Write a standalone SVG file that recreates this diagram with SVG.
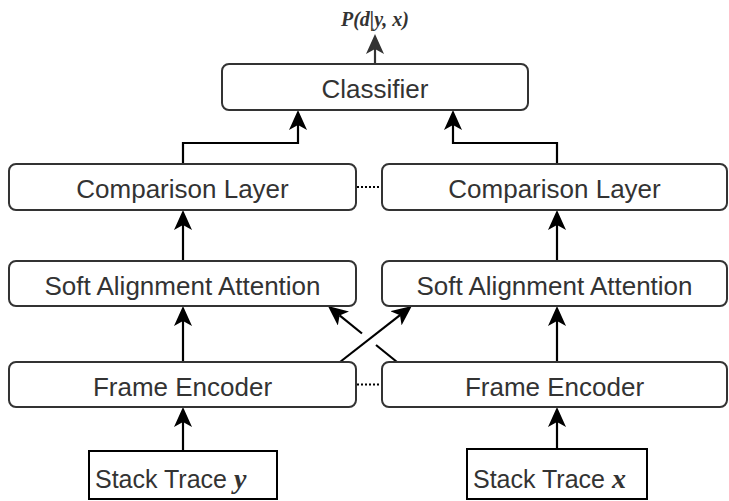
<svg xmlns="http://www.w3.org/2000/svg" width="729" height="501" viewBox="0 0 729 501">
<defs>
<style>
.box{fill:#fff;stroke:#333;stroke-width:2}
.sbox{fill:#fff;stroke:#000;stroke-width:2}
.lbl{font-family:"Liberation Sans",Arial,Helvetica,sans-serif;font-size:26px;fill:#333;text-anchor:middle}
.slbl{font-family:"Liberation Sans",Arial,Helvetica,sans-serif;font-size:25px;fill:#333}
.math{font-family:"Liberation Serif","DejaVu Serif",serif;font-style:italic;font-weight:bold}
.edge{fill:none;stroke:#000;stroke-width:2.2}
.dot{fill:none;stroke:#000;stroke-width:2;stroke-dasharray:2 2}
</style>
<marker id="arr" viewBox="0 0 20 18" refX="5" refY="9" markerWidth="20" markerHeight="18" markerUnits="userSpaceOnUse" orient="auto">
<path d="M0,0 L20,9 L0,18 L5,9 Z" fill="#000"/>
</marker>
<marker id="arrg" viewBox="0 0 20 18" refX="5" refY="9" markerWidth="20" markerHeight="18" markerUnits="userSpaceOnUse" orient="auto">
<path d="M0,0 L20,9 L0,18 L5,9 Z" fill="#333"/>
</marker>
</defs>
<g id="connectors">
<line x1="375" y1="64" x2="375" y2="49" stroke="#333" stroke-width="2.2" marker-end="url(#arrg)"/>
<polyline class="edge" points="183,164 183,143 298,143 298,125" marker-end="url(#arr)"/>
<polyline class="edge" points="557,164 557,143 453,143 453,125" marker-end="url(#arr)"/>
<line class="edge" x1="183" y1="261" x2="183" y2="225" marker-end="url(#arr)"/>
<line class="edge" x1="557" y1="261" x2="557" y2="225" marker-end="url(#arr)"/>
<line class="edge" x1="183" y1="362" x2="183" y2="321" marker-end="url(#arr)"/>
<line class="edge" x1="557" y1="362" x2="557" y2="321" marker-end="url(#arr)"/>
<line class="edge" x1="183" y1="451" x2="183" y2="422" marker-end="url(#arr)"/>
<line class="edge" x1="557" y1="449" x2="557" y2="422" marker-end="url(#arr)"/>
<line class="edge" x1="340" y1="362" x2="400" y2="315.2" marker-end="url(#arr)"/>
<line class="edge" x1="397" y1="362" x2="376" y2="345"/>
<line class="edge" x1="362" y1="333.5" x2="339.6" y2="315.4" marker-end="url(#arr)"/>
<line class="dot" x1="357" y1="187" x2="382" y2="187"/>
<line class="dot" x1="357" y1="384.5" x2="382" y2="384.5"/>
</g>
<g id="output">
<text x="375" y="26" font-family="'Liberation Serif','DejaVu Serif',serif" font-size="20" font-style="italic" font-weight="bold" fill="#333" text-anchor="middle">P(d|y, x)</text>
</g>
<g id="classifier">
<rect class="box" x="222" y="64" width="306" height="46" rx="7"/>
<text class="lbl" x="375" y="98">Classifier</text>
</g>
<g id="comparison-left">
<rect class="box" x="9" y="164" width="347" height="46" rx="7"/>
<text class="lbl" x="182.5" y="198">Comparison Layer</text>
</g>
<g id="comparison-right">
<rect class="box" x="382" y="164" width="345" height="46" rx="7"/>
<text class="lbl" x="554.5" y="198">Comparison Layer</text>
</g>
<g id="soft-left">
<rect class="box" x="9" y="261" width="347" height="45" rx="7"/>
<text class="lbl" x="182.5" y="295">Soft Alignment Attention</text>
</g>
<g id="soft-right">
<rect class="box" x="382" y="261" width="345" height="45" rx="7"/>
<text class="lbl" x="554.5" y="295">Soft Alignment Attention</text>
</g>
<g id="frame-left">
<rect class="box" x="9" y="362" width="347" height="45" rx="7"/>
<text class="lbl" x="182.5" y="396">Frame Encoder</text>
</g>
<g id="frame-right">
<rect class="box" x="382" y="362" width="345" height="45" rx="7"/>
<text class="lbl" x="554.5" y="396">Frame Encoder</text>
</g>
<g id="stack-y">
<rect class="sbox" x="89" y="451" width="188" height="48"/>
<text class="slbl" x="95" y="488">Stack Trace <tspan class="math" font-size="28">y</tspan></text>
</g>
<g id="stack-x">
<rect class="sbox" x="467" y="449" width="180" height="50"/>
<text class="slbl" x="473" y="488">Stack Trace <tspan class="math" font-size="28">x</tspan></text>
</g>
</svg>
